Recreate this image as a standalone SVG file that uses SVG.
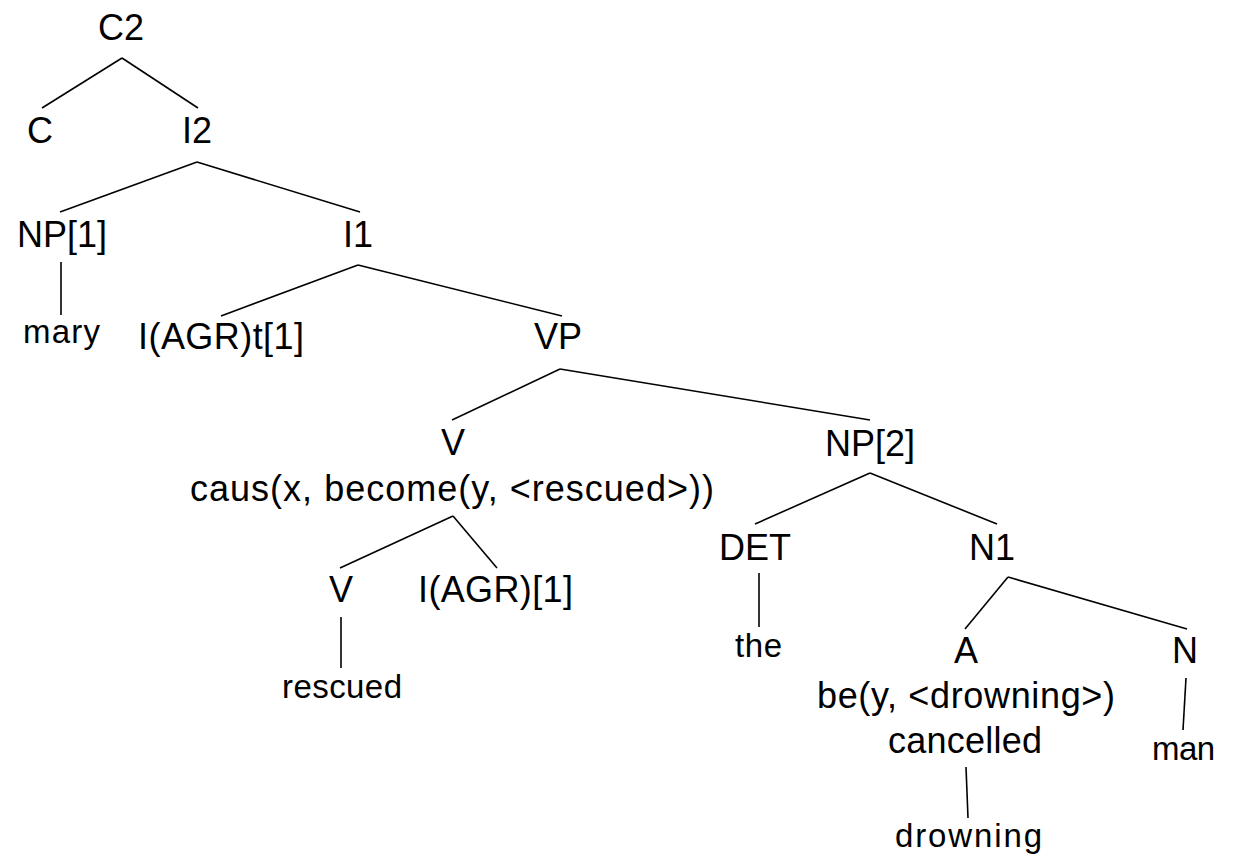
<svg xmlns="http://www.w3.org/2000/svg" width="1233" height="855" viewBox="0 0 1233 855">
<style>
text{font-family:"Liberation Sans",Arial,sans-serif;fill:#000}
.n{font-size:36px}
.c{text-anchor:middle}
.l{font-size:33px}
.e line{stroke:#000;stroke-width:1.6;fill:none}
</style>
<rect width="1233" height="855" fill="#fff"/>
<g class="e" id="connectors">
<line x1="122" y1="58" x2="42" y2="108"/>
<line x1="122" y1="58" x2="198" y2="108"/>
<line x1="197" y1="162" x2="60" y2="212"/>
<line x1="197" y1="162" x2="360" y2="212"/>
<line x1="61" y1="262" x2="61" y2="315"/>
<line x1="358" y1="265" x2="221" y2="316"/>
<line x1="358" y1="265" x2="562" y2="316"/>
<line x1="560" y1="369" x2="452" y2="420"/>
<line x1="560" y1="369" x2="870" y2="420"/>
<line x1="453" y1="516" x2="340" y2="568"/>
<line x1="453" y1="516" x2="497" y2="568"/>
<line x1="341" y1="617" x2="341" y2="668"/>
<line x1="870" y1="473" x2="755" y2="524"/>
<line x1="870" y1="473" x2="997" y2="524"/>
<line x1="759" y1="573" x2="759" y2="627"/>
<line x1="1008" y1="577" x2="965" y2="629"/>
<line x1="1008" y1="577" x2="1187" y2="629"/>
<line x1="1186" y1="678" x2="1183" y2="730"/>
<line x1="966" y1="767" x2="968" y2="818"/>
</g>
<g id="C2"><text class="n c" x="121" y="40">C2</text></g>
<g id="C"><text class="n c" x="40" y="143">C</text></g>
<g id="I2"><text class="n c" x="197" y="143">I2</text></g>
<g id="NP1"><text class="n c" x="62" y="247">NP[1]</text></g>
<g id="I1"><text class="n c" x="358" y="247">I1</text></g>
<g id="mary"><text class="l" x="23" y="343" textLength="77">mary</text></g>
<g id="IAGRt1"><text class="n" x="138" y="349" textLength="166">I(AGR)t[1]</text></g>
<g id="VP"><text class="n c" x="558" y="349">VP</text></g>
<g id="V1"><text class="n c" x="453" y="455">V</text><text class="n" x="190" y="501" textLength="524">caus(x, become(y, &lt;rescued&gt;))</text></g>
<g id="NP2"><text class="n c" x="870" y="456">NP[2]</text></g>
<g id="V2"><text class="n c" x="341" y="602">V</text></g>
<g id="IAGR1"><text class="n" x="418" y="602" textLength="155">I(AGR)[1]</text></g>
<g id="rescued"><text class="l" x="282" y="698" textLength="120">rescued</text></g>
<g id="DET"><text class="n c" x="755" y="560">DET</text></g>
<g id="N1"><text class="n c" x="992" y="560">N1</text></g>
<g id="the"><text class="l" x="735" y="657" textLength="47">the</text></g>
<g id="A"><text class="n c" x="966" y="663">A</text><text class="n" x="817" y="708" textLength="298">be(y, &lt;drowning&gt;)</text><text class="n" x="888" y="753" textLength="154">cancelled</text></g>
<g id="N"><text class="n c" x="1185" y="663">N</text></g>
<g id="man"><text class="l" x="1152" y="760" textLength="63">man</text></g>
<g id="drowning"><text class="l" x="895" y="847" textLength="147">drowning</text></g>
</svg>
